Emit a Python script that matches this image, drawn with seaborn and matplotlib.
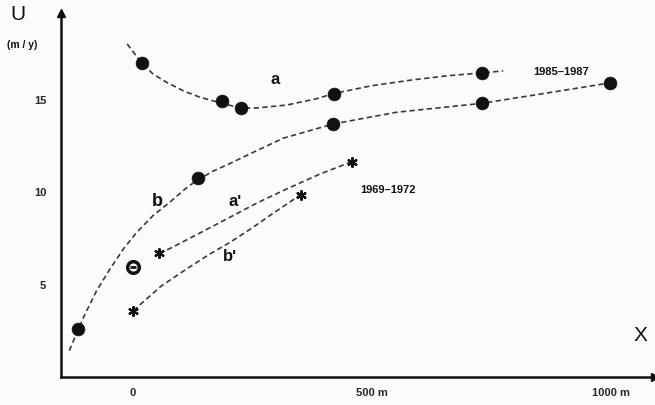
import matplotlib
matplotlib.use("Agg")
import matplotlib.pyplot as plt
import seaborn as sns
import pandas as pd

# ---- data (X in m, U in m/y) ----
a_x = [19, 188, 227, 421, 730]
a_u = [16.93, 14.86, 14.49, 15.28, 16.39]

b_x = [-113, 136, 420, 730, 998]
b_u = [2.59, 10.71, 13.64, 14.75, 15.85]

b_out_x = [2]
b_out_u = [5.91]

a1_x = [56, 459]
a1_u = [6.67, 11.61]

b1_x = [2, 352]
b1_u = [3.57, 9.83]

# hand-drawn dashed curves (read along the dashes)
curve_a_x = [-11, 19, 43, 71, 106, 141, 188, 227, 260, 323, 385, 421, 500, 587, 660, 730, 775]
curve_a_u = [17.95, 16.93, 16.33, 15.89, 15.43, 15.08, 14.75, 14.49, 14.5, 14.66, 15.0, 15.28, 15.7, 16.02, 16.24, 16.39, 16.5]

curve_b_x = [-132, -113, -99, -75, -47, -19, 9, 43, 78, 113, 136, 169, 209, 245, 315, 420, 552, 730, 831, 998]
curve_b_u = [1.42, 2.59, 3.4, 4.65, 5.82, 6.9, 7.8, 8.7, 9.42, 10.2, 10.62, 11.1, 11.57, 12.02, 12.87, 13.64, 14.27, 14.75, 15.16, 15.85]

curve_a1_x = [56, 78, 140, 203, 262, 322, 392, 459]
curve_a1_u = [6.67, 6.92, 7.75, 8.6, 9.4, 10.13, 10.94, 11.61]

curve_b1_x = [2, 16, 60, 113, 160, 204, 247, 287, 352]
curve_b1_u = [3.57, 3.9, 4.9, 5.82, 6.6, 7.26, 7.98, 8.7, 9.83]

x_ticks = [0, 500, 1000]
x_tick_labels = ["0", "500 m", "1000 m"]
y_ticks = [5, 10, 15]
y_tick_labels = ["5", "10", "15"]

# ---- figure ----
sns.set_style("white")
plt.rcParams["font.family"] = ["Liberation Sans", "DejaVu Sans"]

bg = "#fbfbfb"
fig = plt.figure(figsize=(6.55, 4.06), dpi=100, facecolor=bg)
ax = fig.add_axes([0.0927, 0.069, 0.907, 0.8956])
ax.set_facecolor(bg)
ax.set_xlim(-150, 1092)
ax.set_ylim(0, 19.6)

dash = (0, (3.2, 2.0))
lc = "#3a3a3a"
for cx, cu in [(curve_a_x, curve_a_u), (curve_b_x, curve_b_u),
               (curve_a1_x, curve_a1_u), (curve_b1_x, curve_b1_u)]:
    df = pd.DataFrame({"x": cx, "u": cu})
    sns.lineplot(data=df, x="x", y="u", ax=ax, sort=False, estimator=None,
                 color=lc, lw=1.2, linestyle=dash, zorder=2)

pts = pd.DataFrame({"x": a_x + b_x, "u": a_u + b_u})
sns.scatterplot(data=pts, x="x", y="u", ax=ax, s=85, color="#111111",
                edgecolor="#111111", linewidth=0.5, zorder=4)
out = pd.DataFrame({"x": b_out_x, "u": b_out_u})
sns.scatterplot(data=out, x="x", y="u", ax=ax, s=70, facecolor="white",
                edgecolor="#111111", linewidth=2.5, zorder=4)
sns.scatterplot(data=out, x="x", y="u", ax=ax, s=25, marker="_",
                color="#111111", linewidth=2.0, zorder=5)
stars = pd.DataFrame({"x": a1_x + b1_x, "u": a1_u + b1_u})
sns.scatterplot(data=stars, x="x", y="u", ax=ax, s=40, marker=(6, 2, 0),
                color="#111111", linewidth=1.6, zorder=4)

# axes styling
for s in ["top", "right"]:
    ax.spines[s].set_visible(False)
for s in ["left", "bottom"]:
    ax.spines[s].set_linewidth(1.8)
    ax.spines[s].set_color("#111111")
ax.plot(1, 0, ">", transform=ax.transAxes, clip_on=False, color="#111111", ms=6)
ax.plot(0, 1, "^", transform=ax.transAxes, clip_on=False, color="#111111", ms=6)

ax.set_xticks(x_ticks)
ax.set_xticklabels(x_tick_labels, fontsize=8, fontweight="bold")
ax.set_yticks(y_ticks)
ax.set_yticklabels(y_tick_labels, fontsize=8, fontweight="bold")
ax.tick_params(axis="both", direction="inout", length=5, width=1.2, color="#111111")
ax.tick_params(axis="x", pad=5)
ax.tick_params(axis="y", pad=8)
ax.set_xlabel("")
ax.set_ylabel("")

# text annotations
kw = dict(color="#111111", ha="center", va="center", clip_on=False)
ax.text(-239, 19.57, "U", fontsize=15, **kw)
ax.text(-230, 17.95, "(m / y)", fontsize=7.5, fontweight="bold", **kw)
ax.text(1061, 2.3, "X", fontsize=15, **kw)
ax.text(298, 16.1, "a", fontsize=12, fontweight="bold", **kw)
ax.text(51, 9.5, "b", fontsize=13, fontweight="bold", **kw)
ax.text(214, 9.5, "a\u02b9", fontsize=12, fontweight="bold", **kw)
ax.text(204, 6.54, "b\u02b9", fontsize=12, fontweight="bold", **kw)
ax.text(535, 10.13, "1969\u20131972", fontsize=8, fontweight="bold", **kw)
ax.text(897, 16.5, "1985\u20131987", fontsize=8, fontweight="bold", **kw)

fig.savefig("out.png", dpi=100, facecolor=bg)
